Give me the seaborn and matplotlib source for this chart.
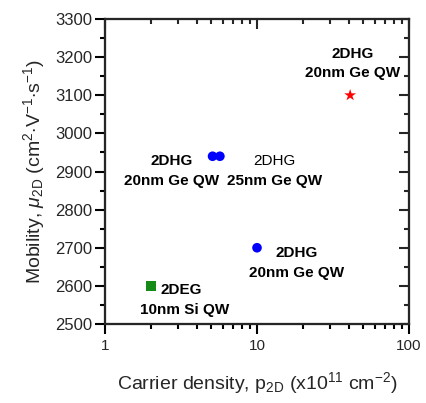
import numpy as np
import pandas as pd
import matplotlib
matplotlib.use("Agg")
import matplotlib.pyplot as plt
from matplotlib.ticker import MultipleLocator, LogLocator, NullFormatter
import seaborn as sns

# ---- data ----
groups = ["2DEG Si", "2DHG Ge 20nm a", "2DHG Ge 25nm", "2DHG Ge 20nm b", "2DHG Ge 20nm c"]
density = [2.0, 5.1, 5.7, 10.0, 41.0]          # x10^11 cm^-2
mobility = [2600, 2940, 2940, 2700, 3100]       # cm^2/Vs
kinds = ["square", "circle", "circle", "circle", "star"]

x_ticks = [1, 10, 100]
x_ticklabels = ["1", "10", "100"]
y_ticks = [2500, 2600, 2700, 2800, 2900, 3000, 3100, 3200, 3300]

# annotation texts: (x, y, text, weight)
annotations = [
    (42.8, 3208, "2DHG", "bold"),
    (42.8, 3158, "20nm Ge QW", "bold"),
    (2.74, 2928, "2DHG", "bold"),
    (2.74, 2876, "20nm Ge QW", "bold"),
    (13.1, 2928, "2DHG", "normal"),
    (13.1, 2876, "25nm Ge QW", "bold"),
    (18.3, 2687, "2DHG", "bold"),
    (18.3, 2633, "20nm Ge QW", "bold"),
    (3.16, 2589, "2DEG", "bold"),
    (3.34, 2536, "10nm Si QW", "bold"),
]

df = pd.DataFrame({"group": groups, "density": density, "mobility": mobility, "kind": kinds})

sns.set_style("ticks")
plt.rcParams["font.family"] = ["Liberation Sans", "DejaVu Sans"]
plt.rcParams["mathtext.fontset"] = "custom"
plt.rcParams["mathtext.rm"] = "Liberation Sans"
plt.rcParams["mathtext.it"] = "Liberation Sans:italic"
plt.rcParams["mathtext.bf"] = "Liberation Sans:bold"

fig = plt.figure(figsize=(4.27, 4.03), dpi=100)
ax = fig.add_axes([105 / 427, 1 - 324 / 403, (409 - 105) / 427, (324 - 19) / 403])

palette = {"square": "#168a16", "circle": "#0000ff", "star": "#ff0000"}
markers = {"square": "s", "circle": "o", "star": "*"}
sizes = {"square": 50, "circle": 48, "star": 80}

for kind in ["square", "circle", "star"]:
    sub = df[df["kind"] == kind]
    sns.scatterplot(data=sub, x="density", y="mobility", color=palette[kind],
                    marker=markers[kind], s=sizes[kind], edgecolor="none",
                    linewidth=0, legend=False, ax=ax, zorder=3)

ax.set_xscale("log")
ax.set_xlim(1, 100)
ax.set_ylim(2500, 3300)
ax.set_xticks(x_ticks)
ax.set_xticklabels(x_ticklabels)
ax.xaxis.set_minor_locator(LogLocator(base=10, subs=np.arange(2, 10)))
ax.xaxis.set_minor_formatter(NullFormatter())
ax.set_yticks(y_ticks)
ax.yaxis.set_minor_locator(MultipleLocator(50))

for s in ax.spines.values():
    s.set_linewidth(1.5)
    s.set_color("black")
    s.set_visible(True)

ax.tick_params(axis="both", which="major", direction="out", length=7, width=1.5,
               color="black")
ax.tick_params(axis="both", which="minor", direction="out", length=3.5, width=1.5,
               color="black")
ax.tick_params(axis="y", labelsize=12, pad=2)
ax.tick_params(axis="x", labelsize=11, pad=4)

# mirrored inward ticks on top and right
axt = ax.twiny()
axt.set_xscale("log")
axt.set_xlim(1, 100)
axt.set_xticks(x_ticks)
axt.xaxis.set_minor_locator(LogLocator(base=10, subs=np.arange(2, 10)))
axt.xaxis.set_minor_formatter(NullFormatter())
axt.tick_params(axis="x", which="major", direction="in", length=7, width=1.5,
                labeltop=False)
axt.tick_params(axis="x", which="minor", direction="in", length=3.5, width=1.5)
axr = ax.twinx()
axr.set_ylim(2500, 3300)
axr.set_yticks(y_ticks)
axr.yaxis.set_minor_locator(MultipleLocator(50))
axr.tick_params(axis="y", which="major", direction="in", length=7, width=1.5,
                labelright=False)
axr.tick_params(axis="y", which="minor", direction="in", length=3.5, width=1.5)
for a in (axt, axr):
    for s in a.spines.values():
        s.set_linewidth(1.5)

for x, y, t, w in annotations:
    ax.text(x, y, t, ha="center", va="center", fontsize=11, fontweight=w,
            color="black", zorder=4)

ax.set_xlabel(r"Carrier density, p$_{\mathrm{2D}}$ (x10$^{\mathrm{11}}$ cm$^{\mathrm{-2}}$)",
              fontsize=14, labelpad=12)
ax.set_ylabel(r"Mobility, $\mu_{\mathrm{2D}}$ (cm$^{\mathrm{2}}$$\cdot$V$^{\mathrm{-1}}$$\cdot$s$^{\mathrm{-1}}$)",
              fontsize=14, labelpad=6)

fig.savefig("out.png", dpi=100)
